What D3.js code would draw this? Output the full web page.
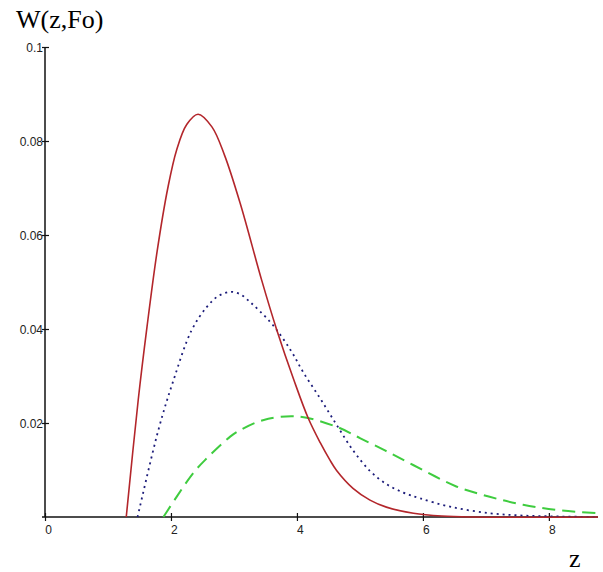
<!DOCTYPE html>
<html>
<head>
<meta charset="utf-8">
<script src="https://cdn.jsdelivr.net/npm/d3@7/dist/d3.min.js"></script>
<style>
html,body{margin:0;padding:0;background:#fff;}
svg{display:block;}
</style>
</head>
<body>
<script>
// Data
const xTicks = [0, 2, 4, 6, 8];
const yTicks = [0.02, 0.04, 0.06, 0.08, 0.1];
const yTickLabels = ["0.02", "0.04", "0.06", "0.08", "0.1"];

const redZ = [1.29, 1.48, 1.62, 1.78, 1.95, 2.09, 2.25, 2.43, 2.65, 2.85, 3.10, 3.44, 3.68, 3.95, 4.18, 4.37, 4.52, 4.63, 4.89, 5.16, 5.42, 5.85, 6.3, 6.8, 8.78];
const redW = [0, 0.0249, 0.0405, 0.0565, 0.0700, 0.0781, 0.0835, 0.0857, 0.0830, 0.0770, 0.0667, 0.0504, 0.0398, 0.0292, 0.0210, 0.0158, 0.0122, 0.0099, 0.0061, 0.0036, 0.0021, 0.0008, 0.0002, 0, 0];

const blueZ = [1.47, 1.80, 2.04, 2.33, 2.57, 2.75, 2.94, 3.10, 3.25, 3.41, 3.62, 3.90, 4.10, 4.37, 4.63, 4.89, 5.16, 5.42, 5.69, 5.95, 6.43, 7.06, 7.6, 8.2, 8.78];
const blueW = [0, 0.0185, 0.0291, 0.0398, 0.0447, 0.0470, 0.0479, 0.0474, 0.0458, 0.0438, 0.0408, 0.0355, 0.0308, 0.0252, 0.0196, 0.0142, 0.0098, 0.0070, 0.0052, 0.0040, 0.0022, 0.0008, 0.0003, 0.0001, 0];

const greenZ = [1.88, 2.1, 2.35, 2.54, 2.94, 3.1, 3.46, 4.0, 4.63, 5.0, 5.48, 6.0, 6.53, 7.06, 7.59, 8.12, 8.78];
const greenW = [0, 0.0045, 0.0093, 0.0121, 0.0171, 0.0185, 0.0206, 0.0214, 0.0192, 0.0168, 0.0136, 0.0100, 0.0065, 0.0043, 0.0026, 0.0015, 0.0008];

const W = 603, H = 572;
const svg = d3.select("body").append("svg").attr("width", W).attr("height", H);

const x = d3.scaleLinear().domain([0, 8.78]).range([45, 598]);
const y = d3.scaleLinear().domain([0, 0.1]).range([517, 47]);

// X axis
const xAxis = d3.axisBottom(x).tickValues(xTicks).tickFormat(d3.format("d")).tickSizeOuter(0).tickSize(4);
const gx = svg.append("g").attr("transform", `translate(0,${y(0)})`).call(xAxis);
gx.select(".domain").attr("stroke", "#111").attr("stroke-width", 1.5).attr("d", `M${x(0)-3},0H${x(8.78)}`);
gx.selectAll(".tick line").attr("y1", -4).attr("y2", 4).attr("stroke", "#111").attr("stroke-width", 1.2);
gx.selectAll(".tick text").attr("dx", 3).attr("y", 8).attr("dy", "0.71em")
  .attr("font-family", "Liberation Sans, Arial, sans-serif").attr("font-size", 12).attr("fill", "#222");

// Y axis
const yAxis = d3.axisLeft(y).tickValues(yTicks).tickFormat((d, i) => yTickLabels[i]).tickSizeOuter(0).tickSize(3);
const gy = svg.append("g").attr("transform", `translate(${x(0)},0)`).call(yAxis);
gy.select(".domain").attr("stroke", "#111").attr("stroke-width", 1.5).attr("d", `M0,${y(0)}V${y(0.1)}`);
gy.selectAll(".tick line").attr("x1", -3).attr("x2", 4).attr("stroke", "#111").attr("stroke-width", 1.2);
gy.selectAll(".tick text").attr("x", -2).attr("dy", "0.35em")
  .attr("font-family", "Liberation Sans, Arial, sans-serif").attr("font-size", 12).attr("fill", "#222");

// Curves
const line = d3.line().x(d => x(d[0])).y(d => y(Math.max(0, d[1]))).curve(d3.curveCatmullRom.alpha(0.5));

svg.append("path").datum(greenZ.map((z, i) => [z, greenW[i]]))
  .attr("d", line).attr("fill", "none").attr("stroke", "#3fcc3f").attr("stroke-width", 2)
  .attr("stroke-dasharray", "13,7");

svg.append("path").datum(blueZ.map((z, i) => [z, blueW[i]]))
  .attr("d", line).attr("fill", "none").attr("stroke", "#1c1c7a").attr("stroke-width", 1.8)
  .attr("stroke-dasharray", "2,4");

svg.append("path").datum(redZ.map((z, i) => [z, redW[i]]))
  .attr("d", line).attr("fill", "none").attr("stroke", "#b3262b").attr("stroke-width", 1.6);

// Axis titles
svg.append("text").attr("x", 16).attr("y", 28).text("W(z,Fo)")
  .attr("font-family", "Liberation Serif, Times New Roman, serif").attr("font-size", 26).attr("fill", "#000");
svg.append("text").attr("x", 569).attr("y", 567).text("z")
  .attr("font-family", "Liberation Serif, Times New Roman, serif").attr("font-size", 26).attr("fill", "#000");
</script>
</body>
</html>
